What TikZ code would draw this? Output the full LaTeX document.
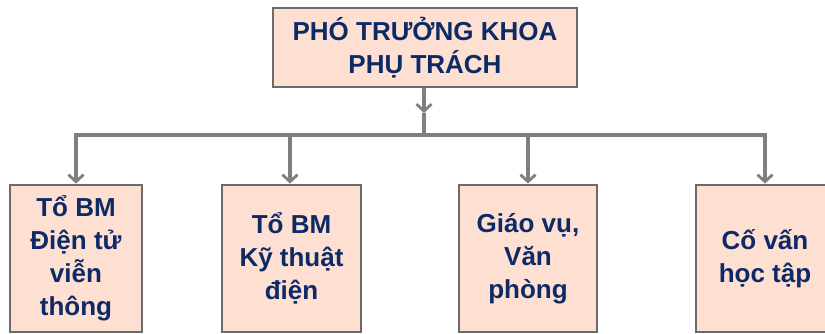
\documentclass[tikz,border=0pt]{standalone}
\usepackage{fontspec}
\setmainfont{Liberation Sans}
\usetikzlibrary{arrows.meta}
\definecolor{boxfill}{HTML}{FDE0D2}
\definecolor{boxline}{HTML}{6B6B6B}
\definecolor{connline}{HTML}{7F7F7F}
\definecolor{txt}{HTML}{0E2A66}
\tikzset{
  orgbox/.style={draw=boxline, line width=2.8pt, fill=boxfill, text=txt,
    font=\fontsize{26}{33}\selectfont\bfseries, align=center, inner sep=0pt},
  conn/.style={draw=connline, line width=3.2pt},
  tip/.style={-{Straight Barb[length=7pt,width=15pt,line width=2.8pt]}}
}
\begin{document}
\begin{tikzpicture}[x=1pt,y=-1pt]
\useasboundingbox (0,0) rectangle (825,333);
\clip (0,0) rectangle (825,333);
\fill[white] (0,0) rectangle (825,333);
\node[orgbox, minimum width=304pt, minimum height=79pt] (top) at (425,47.5) {PHÓ TRƯỞNG KHOA\\PHỤ TRÁCH};
\node[orgbox, minimum width=132pt, minimum height=147pt] (b1) at (76,258.5) {Tổ BM\\Điện tử\\viễn\\thông};
\node[orgbox, minimum width=139pt, minimum height=147pt] (b2) at (291.5,258.5) {Tổ BM\\Kỹ thuật\\điện};
\node[orgbox, minimum width=138pt, minimum height=147pt] (b3) at (528,258.5) {Giáo vụ,\\Văn\\phòng};
\node[orgbox, minimum width=138pt, minimum height=147pt] (b4) at (765,258.5) {Cố vấn\\học tập};
\coordinate (m) at (424,113);
\coordinate (hub) at (424,135);
\coordinate (h1) at (76,135);
\coordinate (h2) at (290,135);
\coordinate (h3) at (528,135);
\coordinate (h4) at (765,135);
\draw[conn, tip] (top.south -| m) -- (m);
\draw[conn] (m) -- (hub);
\draw[conn, line cap=rect] (h1) -- (h4);
\draw[conn, tip] (h1) -- (h1 |- b1.north);
\draw[conn, tip] (h2) -- (h2 |- b2.north);
\draw[conn, tip] (h3) -- (h3 |- b3.north);
\draw[conn, tip] (h4) -- (h4 |- b4.north);
\end{tikzpicture}
\end{document}
